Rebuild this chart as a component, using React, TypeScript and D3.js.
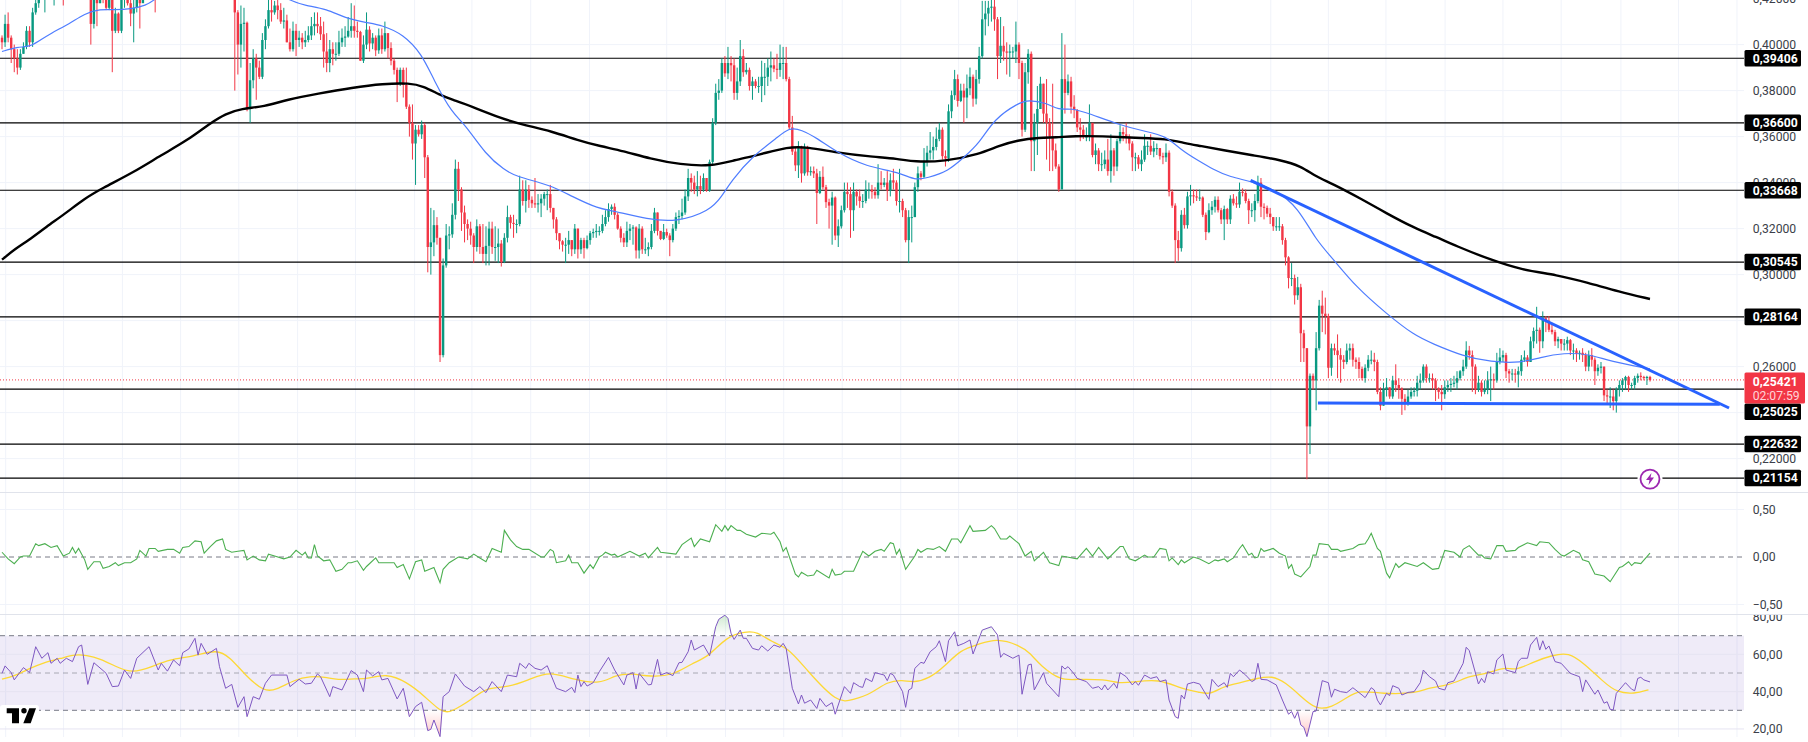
import * as d3 from 'd3';
import React from 'react';

// all prices are in thousandths (394.06 = 0,39406)
const closes = [
  401,409,403,398,394,390,396,399,406,401,414,418,421,
  424,426,428,427,427,429,430,427,432,431,430,429,428,426,430,428,
  409,421,418,424,422,416,423,406,413.5,406,420,422,418,413.5,416,420,418,
  425,428,427,430,428,432,434,433,436,438,437,440,442,441,439,443,441,445,443,446,444,442,445,443,441,444,442,440,438,436,
  414,400,409,409.5,372,384.5,394,390,386,402,
  408,415,414,417,415,410,410.5,401,398,406,
  402,403,401,402,404,408,409,408,404.5,397,
  392,398,396,396,401,403,403.5,406,408,406,
  405.5,393,400,406.5,400.5,403,397.5,404,398,405,
  398.5,393,389,383,389,382.5,373,366,357,363,
  361,365,351,312,314,321.5,316,265,304,317,
  317.5,326,346,337,327,322,320,317,312,321,
  312,309,312.5,320,312,312,313.5,305.5,316,325,
  322.5,322,322,337,332,337,332.5,331,330.5,331,
  333,335,335,329,324,318,314.5,313,313,315,
  311,320,311,315,311.5,315,318,318.5,319,319,
  322,325,328.5,329.5,326,320,316,314,319,320,
  320.5,310.5,320,311,311,312,319,327,319,315.5,
  318.5,317,315,320,325,325.5,327,334,342,340,
  337,338.5,337,342,336.5,349,366,379,380,392,
  387.5,392,391,379,384,395,388,389,382,384,
  382,382,386,386,390,391,389.5,389,392,392,
  385,364,353.5,347.5,355,344,355,344.5,345,344,335.5,
  342.5,338,331.5,330,333.5,317,321,328,336,335,
  328,336,334,332,332,337,337,336,334.5,340,339,
  340,336.5,341,340,332,332,328,315,325,325,
  338,344,342.5,349,353,354,355.5,359,363,351.5,
  350.5,371,378,385,375.5,380,377,381,386,376.5,
  385,395,411,413.5,416,416.5,411,395,399.5,397,
  396.5,397,397,400,392,363,388,396,358,366,
  372,383,370,366,360,354,347,337,385,379,
  384,373,371.5,364,363,360,360,366,352,354,
  348,348,350,345,354,347,358,362,361,360,357,
  351,351,348,350,356,356,353.5,355,355,351.5,
  351,353,336,330,315,311.5,326,321.5,334,334.5,
  334,333.5,
  333.5,326,318.5,328,329.5,332.5,328,324,328.5,324,
  333,331,330.5,336,335.5,332,328,328,332,340,
  329.5,329,326.5,325,321,321,321,315,307.5,298.5,
  298.5,291,294.5,274.5,268,234,256,254,268,286.5,
  283,282,259.5,268,267,265,263,262,267,268,
  263,262,259,255,259.5,263,263,262,249,243,
  250,251,247,254,252,250.5,246,244,247,249,
  249.5,253,254,260,255,255,254,250.5,249,248,
  251,252,252.5,253,255,258,260,267,265,260,
  250,253,249,250,254,254.5,254,262,264,265,
  258,257,257,256.5,258,263,264,262,271,275.5,
  276,271,281,280,276,275,271,272,270,270,
  271.5,267,267,265.5,266,265,260,265,263,258,
  259.5,260,247.5,247,247,245,250,252,254,255.5,
  252,252,255,256,255.5,255,255.5,254.21,
];

const highs = [
  404,413,414,404,400,398,398,401,408,408,416,421,425,
  427,429,431,430,431,432,433,431,435,434,433,432,431,430,433,431,
  430,428,424,427,426,428,427,423,416,414,424,425,426,421,420,424,426,
  428,431,430,433,431,435,437,436,439,441,440,443,445,444,442,446,444,448,446,449,447,445,448,446,444,447,445,443,441,439,
  435,415,417,416,410,392,398,396,393,405,
  411,420,420,419,420,418,416,413,407,410,
  409,406,405,406,408,412,414,414,412,410,
  405,402,401,401,406,407,408,412,418,417,
  410,406,404,414,408,405,404,407,407,410,
  404,401,394,390,390,390,390,374,374,365,
  365,367,366,352,329,328,325,316,307,322,
  321,331,350,349,338,330,324,323,318,324,
  322,322,321,323,323,321,320,315,318,330,
  326,326,324,343,341,341,339,334,342,335,
  335,336,337,339,329,325,318,315,316,319,
  315,322,320,316,316,317,319,320,322,321,
  326,328,331,330.5,331,327,321,318,323,322,
  321.5,321,322,321,316,314,322,329,327,319,
  322,320,318,322,327,328,333,337,346,344,
  343,345,343,344,342,350,368,383,385,394,
  395,399,395,394,390,402,398,392,390,386,
  385,386,393,392,394,397,394,396,400,399,
  399,386,369,355,358,356,357,356,347,347,346,
  345,347,339,333,336,334,324,330,340,340,
  338,340,337,337,335,341,340,339,338,348,345,
  342,345,344,346,341,346,333,329,328,330,
  340,347,345,355,356,362,360,364,366,364,
  354,374,380,389,387,383,383,387,390,387,
  389,399,419,419,419,421,420,412,412,408,
  401,400,399,410,401,393,392,398,397,370,
  382,386,383,385,368,383,357,348,405,400,
  387,386,378,372,368,365,364,374,362,357,
  355,353,354,359,361,355,359,365,364,366,361,
  358,353,352,354,361,358,361,358,357,355,
  353,357,354,337,331,319,328,329,336,339,
  337,337,
  337,334,327,331,332,334,334,329,330,329,
  334.5,335,334,340,337.5,337,333,331,335,343,
  342,331,330,329,325,325,325,322,316,308,
  305,300,299,296,276,268,257,257,275,289,
  293,290,283,270,270,274,268,265,270,270,
  270,264,264,260,261,265,267,266,263,251,
  253,255,251,256,261,255,251,248,250,251,
  251,256,257,261,261,257,257,255,251,252,
  254,254,255,256,258,258.5,263,271,269,267,
  261,256,254,254,258,260,257,266,268,267,
  266,259,259,259,260,265,267,265,273,277,
  286,277,284,282,282,279,276,273,272,272,
  273,272,270,268,267,268,266,267,268,264,
  261,262,260,250,251,250,251,254,255,256,
  256,253,256,257,257.5,256,256,256,
];

const lows = [
  398,399,401,392,388,387,389,396,398,399,399,413,416,
  421,414,425,424,417,425,427,417,425,428,427,426,425,424,426,426,
  400,407,408,418,418,415,415,388,405,405,405,416,417,408,401,414,407,
  422,425,424,427,414,429,431,430,433,435,434,437,439,438,436,440,438,442,440,443,441,439,442,440,438,441,439,437,435,433,
  380,387,390,397,371,366,381,376,385,385,
  398,407,410,413,411,409,407,401,397,397,
  395,399,398,399,401,402,404,405,402,390,
  388,388,391,393,395,399,399,403,403,403,
  403,393,392,398,397,398,395,396,396,397,
  394,391,387,375,382,377,372,360,350,339,
  360,359,342,301,300,308,313,262,264,303,
  311,316,324,332,319,314,315,313,305,310,
  309,305,304,304,309,306,305,303.5,305,314,
  320,316,318,321,330,327,329,329,329,327,
  325,330,328,327,320,315,311,310,305,309,
  308,309,307,309,307,311,313,316,316,317,
  318,321,323,326,324,319.5,314,312,312,315,
  313,307,307,309,309,308,311,318,317,315,
  315,316,308,314,319,322,324,326,332,336,
  335,334,335,336,336,336,348,365,376,379,
  386,385,384,376,376,382,386,387,380,376,
  381,379,375,378,382,384,388,385,386,385,
  384,363,352,345,342,340,343,343,343,342,322,
  335,337,329,320,313,315,312,320,327,329,
  316,319,330,329,329,331,333,333,333,333,337,
  338,332,334,337,330,327,325,314,305,314,
  325,336,341,342,347,350,350,354,358,350,
  347,349,368,376,373,375,366,368,378,373,
  374,383,394,404,408,410,406,385,392,393,
  387,386,394,392,385,360,362,383,345,345,
  352,372,366,350,345,345,346,336,340,370,
  378,370,368,362,358,359,358,358,351,348,
  345,345,346,343,340,343,345,357,358,357,354,
  345,345,346,345,349,352,352,351,352,350,
  348,349,334,329,305,306,310,320,320,330,
  331,332,
  332,325,315,318,326,327,327,322,315,322,
  322,330,329,329,334,331,322,325,323,331,
  325,324,325,322,319,319,319,313,304,294,
  295,287,289,262,262,211,222,250,241,267,
  275,274,255,256,265,255,253,259,261,263,
  260,259,255,254,253,258,261,258,248,241,
  243,247,246,246,249,246,239,241,243,246,
  247,247,250,253,253,253,250,245,246,241,
  246,249,249,251,250,254,256,259,263,249,
  248,249,247,248,248,245,250,253,261,262,
  255,253,254,253,251,256,262,260,262,268,
  270,266,268,275,275,274,269,268,267,267,
  267,265,263,262,263,262,258,258,260,252,
  256,257,245,244,242,241,240,247,249,250,
  249,250,250,253,254,254,252,253.5,
];

// [bar, value]
const ema50: [number, number][] = [
  [0,397],[5,399],[9,399],[12,401.5],[16,405],[22,409],[27,413.5],[32,415.5],[37,415],[42,415.5],[47,417],[50,419.5],[57,428],
  [87,425],[94,419],[99,417],[106,415.5],[112,411.5],[119,409.5],[124,408.5],[131,404.5],[137,396],[141,384.5],[147,370],[151,365.7],
  [158,352],[164,345.5],[168,342.5],[179,339],[186,334],[195,328.5],[199,328],[211,324],[220,322.8],[231,327.6],[235,334],[238,340.6],
  [245,351.5],[253,359.4],[257,364],[261,363],[266,359.4],[273,352.8],[282,347],[293,344.5],[298,341],[302,342],[309,345],[314,351],
  [319,357],[324,367.9],[332,374.7],[335,376],[341,374.7],[345,371.4],[349,372.5],[355,370],[365,365],[373,362.3],[380,360.4],[385,354],
  [391,349.2],[395,346],[401,342.3],[408,340.6],[416,336.6],[423,329.4],[429,314.9],[434,307.7],[442,294.6],[452,283],[461,273.6],[467,270],
  [477,264.5],[486,262],[496,261.6],[502,264],[510,266],[518,265.5],[525,262.3],[538,259],
];

const ema200: [number, number][] = [
  [0,306.5],[4.4,311.3],[8.7,314.9],[14.4,320.7],[20.6,326.5],[26.9,333],[32.5,337.4],[43.1,344.6],[51.9,351.9],[60.6,358.4],[68.1,366],
  [73.1,370],[78.1,372.2],[85.6,373],[93.1,376.1],[103.1,378.7],[114.4,381.3],[124.4,383],[133.1,383.3],[137.5,382],[143.1,378],[146.9,376.1],
  [153.1,373.2],[163.1,367.8],[170.6,365],[179.4,362.3],[188.1,358.4],[195.3,355.8],[202.7,353.8],[211.5,350.4],[221.5,347.8],[231.5,347.1],
  [239,349.7],[247.7,352.3],[256.5,355.5],[262.7,355.5],[272.7,353],[282.7,351.4],[292.7,350.4],[297.7,349],[307.7,349.2],[318.9,352.3],
  [325.2,355.9],[331.4,358.4],[338.9,359.6],[343.9,359.6],[350.2,360.3],[358.9,360.2],[370.2,359.4],[380.2,359.1],[386.5,357],[391.1,356],
  [398.7,354.1],[407.6,352],[417.7,349.8],[424,347.2],[429,342.6],[434,339.7],[444.3,332.5],[451.9,326.7],[460.7,320.5],[468.3,316.3],
  [474.6,312.5],[486,306.4],[496.2,302],[507.6,299.9],[517.7,296.5],[527.8,292.6],[538,289.4],
];

const trendDown: [number, number][] = [[407.6,341],[563.8,242]];
const trendFlat: [number, number][] = [[429.6,244.2],[560.8,243.6]];

const oscillator: [number, number][] = [
  [0,.05],[2,-.02],[4,-.07],[6,0],[7,.01],[9,.01],[11,.14],[12,.12],[14,.14],[16,.10],[18,.12],[20,.01],[22,.04],[23,.10],[24,.04],[25,.09],
  [27,-.03],[28,-.13],[30,-.05],[32,-.05],[33,-.12],[35,-.10],[37,-.06],[38,-.09],[40,-.06],[42,-.06],[44,-.02],[45,.07],[47,.01],[48,.09],
  [50,.09],[51,.06],[54,.08],[56,.08],[58,.04],[59,.10],[61,.11],[63,.17],[65,.16],[66,.04],[68,.11],[70,.17],[72,.19],[73,.08],[75,.05],
  [77,.06],[79,.07],[80,-.03],[82,.01],[84,-.03],[86,-.04],[87,.03],[89,.01],[92,-.02],[94,0],[96,.07],[98,.02],[99,.05],[100,-.01],[101,-.01],
  [102,.13],[103,.01],[105,-.04],[107,-.03],[109,-.15],[111,-.13],[113,-.06],[114,-.06],[116,-.04],[118,-.14],[119,-.10],[122,-.01],[123,-.06],
  [125,-.06],[128,-.06],[129,-.11],[131,-.08],[133,-.23],[135,-.05],[137,-.03],[138,-.15],[141,-.11],[143,-.27],[144,-.13],[146,-.06],[149,0],
  [152,-.02],[154,.03],[156,-.01],[158,-.05],[160,.09],[163,.05],[164,.28],[166,.18],[168,.11],[170,.08],[172,.08],[176,0],[177,0],[179,.08],
  [180,.06],[181,-.06],[184,-.04],[185,.02],[186,-.06],[188,-.06],[190,-.17],[192,-.08],[193,-.12],[195,0],
  [196,.02],[197,.05],[199,.02],[200,.03],[201,0],[205,.06],[208,.01],[210,.04],[211,-.01],[214,.10],[215,.05],[220,.03],[222,.13],[225,.20],
  [226,.11],[228,.19],[231,.16],[233,.34],[235,.27],[236,.33],[237,.28],[238,.33],[240,.28],[241,.28],[243,.24],[246,.21],[248,.25],[251,.24],
  [252,.26],[254,.16],[255,.06],[256,.10],[259,-.18],[260,-.21],[261,-.16],[263,-.20],[265,-.19],[266,-.14],[270,-.22],[271,-.13],[272,-.19],
  [274,-.18],[275,-.15],[278,-.15],[281,.06],[283,.01],[285,.06],[287,.08],[288,.06],[290,.15],[291,.14],[292,.03],[293,.08],[295,-.13],[298,.01],
  [299,.08],[300,.05],[302,.09],[304,.08],[306,.11],[308,.06],[310,.19],[312,.19],[313,.15],[316,.33],[317,.27],[321,.28],[323,.33],[324,.30],
  [326,.19],[328,.19],[329,.22],[332,.14],[334,.01],[336,.06],[337,-.04],[340,.05],[342,-.06],[345,-.09],[346,.01],[351,-.02],[354,.09],[356,.01],
  [358,.10],[361,-.02],[365,.11],[366,.11],[368,-.02],[370,-.04],[373,.02],[374,0],[376,0],[378,.09],[380,.08],[381,-.04],[382,-.01],[384,-.08],
  [385,-.03],[386,-.06],[389,0],[391,-.02],
  [394,-.07],[396,-.03],[397,-.04],[399,-.02],[400,-.05],[402,-.01],[404,.09],[405,.13],[407,.02],[408,.04],[409,-.01],[410,0],[411,.09],[412,.06],
  [415,.09],[417,.04],[419,.01],[420,-.12],[421,-.08],[422,-.18],[424,-.21],[427,-.10],[428,.02],[429,.02],[430,.14],[433,.13],[434,.08],[436,.08],
  [437,.06],[441,.09],[443,.13],[445,.14],[446,.19],[447,.25],[449,.09],[450,.06],[452,-.17],[453,-.22],[455,-.07],[456,-.11],[458,-.06],[462,-.10],
  [464,-.06],[467,-.13],[469,-.12],[471,.07],[474,.05],[476,0],[477,.08],[479,.12],[482,.02],[483,.02],[484,-.01],[486,-.02],[488,.12],[490,.12],
  [491,.06],[494,.07],[495,.10],[498,.15],[501,.12],[502,.16],[505,.15],[507,.08],[509,.02],[510,.01],[513,.07],[515,.04],[516,-.03],[518,-.05],
  [520,-.18],[523,-.20],[525,-.26],[528,-.11],[529,-.10],[531,-.05],[532,-.09],[533,-.06],[535,-.07],[538,.04],
];

const rsi: [number, number][] = [
  [0,49.8],[1,53.8],[3,50.2],[4,46.3],[7,52.9],[9,50.2],[11,64.1],[13,57.9],[15,60.9],[16,55.2],[18,57.9],[19,55.2],[21,57.9],[23,56.1],[25,64.1],[26,65],
  [28,43.9],[30,55.5],[33,51.3],[34,49.8],[36,42.7],[38,43],[40,51.6],[42,47.1],[44,57.9],[48,64.1],[51,51.6],[52,55.2],[54,51],[56,57],[58,53.9],[59,60.9],
  [61,62.9],[63,68.6],[64,59.6],[65,65.9],[67,60],[70,63.2],[71,53.4],[73,41.8],[75,43.9],[77,31.6],[79,37.3],[80,26.6],[82,37.3],[84,35.9],[86,44.5],[88,48.9],
  [93,48.9],[94,42.7],[97,46.6],[99,44.1],[101,44.5],[103,49.5],[104,48],[107,37.3],[108,42.7],[111,40.9],[114,51.3],[116,48.9],[118,40],[119,51.6],[121,48.4],
  [123,50.7],[124,46.3],[126,47.1],[129,36.1],[131,41.8],[133,26.6],[135,32],[137,34.3],[139,19.1],[140,19.8],[141,24.8],[143,15.9],[144,37.3],[146,40],[148,49.5],
  [151,43],[154,40],[156,42.7],[158,39.5],[160,45.4],[163,40],[165,48.9],[168,48],[169,55.2],[171,52.5],[172,55.2],[174,52.5],[176,51.6],[178,53.9],[181,41.8],
  [184,40],[186,42.3],[187,39.5],[188,48.9],[189,42.7],[190,45.4],[191,43],[193,44.8],[195,50.7],
  [198,58.4],[200,51.6],[203,43.6],[204,48.9],[206,50.2],[207,41.4],[208,49.8],[211,43.6],[212,43.9],[214,57.3],[215,48.9],[217,50.2],[219,48.6],[221,55.5],[222,55.7],
  [224,61.4],[225,67.7],[226,62.3],[229,65],[231,59.3],[233,74.8],[234,78.8],[236,81],[237,79.3],[238,71.3],[239,68],[241,73],[242,68.6],[243,68.6],[245,63.2],[247,62.3],
  [248,64.6],[250,61.8],[252,65],[254,63.8],[255,65.9],[256,63.2],[258,41.8],[260,33.4],[261,38.2],[262,33.8],[264,35.5],[266,31],[267,36.4],[269,32],[271,34.1],[272,27.9],
  [275,42.7],[277,39.1],[278,44.8],[280,42.7],[281,42.3],[282,47.1],[284,45.4],[285,50.2],[288,48.9],[289,45.9],[290,49.8],[291,48.9],[294,40],[295,31.6],[296,40.9],[297,41.8],
  [298,52.5],[300,55.7],[301,55.2],[303,61.4],[305,64.1],[306,67.3],[308,56.1],[309,67.3],[311,72.1],[312,64.6],[314,65.9],[316,67.7],[317,60.2],[320,73],[323,74.8],[325,70.4],
  [326,58.4],[327,60.5],[330,57.9],[332,59.6],[333,38.6],[335,54.3],[336,54.8],[337,40.9],[340,50.2],[341,44.5],[345,37.3],[346,53.8],[347,52.1],[348,53.4],[350,49.5],[351,47.1],
  [354,45.4],[356,41.8],[358,42.7],[359,40.9],[360,43.6],[361,40.9],[363,44.5],[364,41.8],[365,50.2],[367,48],[369,43.6],[370,45.4],[371,43.4],[373,48.9],[375,47.1],[377,48],
  [378,45.4],[380,46.3],[381,35.5],[383,26.6],[384,25.7],[385,38.2],[386,36.1],[387,44.1],[389,45],[391,44.1],
  [394,35.9],[395,46.6],[397,42.7],[399,44.8],[400,42.3],[401,49.8],[402,48],[404,51.6],[406,48.9],[408,45.4],[409,46.3],[410,55.2],[411,46.6],[413,46.3],[416,43.6],[418,35.5],
  [420,27.9],[421,29.3],[422,25.7],[423,29.3],[424,22.1],[425,20.9],[426,15.9],[428,29.3],[429,29.6],[431,45.9],[433,44.8],[434,37],[435,41.3],[437,40],[439,39.5],[441,42.1],
  [444,38.2],[445,36.8],[447,42.1],[448,40.9],[449,35.5],[450,32.9],[452,39.1],[453,37.9],[454,43.2],[456,41.8],[457,38.2],[459,39.6],[461,40],[463,44.8],[464,51.6],[466,48],
  [468,45.7],[469,41.8],[471,40.9],[472,44.8],[474,45.7],[477,55.2],[478,63.8],[479,62],[482,44.1],[483,47.1],[484,44.8],[485,50.7],[487,49.5],[488,57],[490,60.2],[491,51.6],
  [494,50.2],[495,56.1],[496,57.9],[498,57.9],[499,65],[501,69.1],[502,62.3],[503,67.3],[504,62.7],[505,64.5],[507,56.1],[509,55.2],[512,49.8],[515,48],[516,40],[517,46.3],
  [520,38.6],[521,40.9],[523,33.8],[524,34.6],[525,30.5],[526,30.2],[527,39.1],[530,44.8],[532,41.3],[533,40.5],[534,47.1],[535,47.7],[536,46.3],[538,45.2],
];

const rsiAverage: [number, number][] = [
  [0,46.7],[4,48.3],[9,52.4],[14,55.9],[19,57.7],[24,60],[27.5,59.5],[32,57.7],[37,53.6],[42.5,49.7],[49.4,53.6],[54.4,57.2],[63,59],[70,62.7],[74.4,58.6],[79.4,48.8],
  [85.6,39.9],[89.4,40.8],[95.6,46.5],[100.6,48.3],[105.6,47.9],[109.4,46.2],[115.6,47],[118.8,46.6],[125.6,49.8],[131.9,45.4],[138.1,37.5],[143.1,29.3],[146.2,28.8],
  [149.4,32],[153.1,35.5],[158.1,42.3],[164.4,42.1],[171.9,46.2],[178.7,51.2],[186.9,46.2],[195.3,44],[200.2,49],[205.8,49.8],[211.5,48],[219,48.6],[225.2,55.2],[230.8,58.8],
  [236.5,69.5],[242.7,72.2],[246.5,72.2],[251.5,66.3],[256.5,63.8],[262.7,51.6],[272.7,33.7],[277.7,35.5],[284,39.1],[289,45.4],[294,46.3],[297.7,44.8],[302.7,47.1],
  [307.7,53.4],[312.7,62.3],[319,65.5],[324.6,68.6],[332.1,65],[335.8,60.5],[339,53.9],[345.8,45.9],[350.2,46.7],[360.2,46.6],[364,44.5],[369,45],[377.7,47],[385.2,41.3],
  [391.2,39.6],[394.3,38.4],[398.7,42.8],[403.8,44.6],[410.1,47.3],[414.5,48.5],[419,45],[424,37.5],[429,30.2],[434.1,31.6],[439.2,37],[443,40.9],[450.6,38.7],[462,39.1],
  [465.8,42.3],[472,43],[479.7,48.9],[484.8,49.5],[490.5,53.4],[494.3,51.2],[500,56.1],[506.3,59.6],[511.4,61],[516.4,55.2],[522.7,45.4],[527.2,39.5],[532.9,38.8],[537.5,41],
];

const levels = [394.06, 366, 336.68, 305.45, 281.64, 250.25, 226.32, 211.54];
const priceTicks = [420, 400, 380, 360, 340, 320, 300, 280, 260, 240, 220];
const oscTicks = [0.5, 0, -0.5];
const rsiTicks = [80, 60, 40, 20];
const rsiDashes = [70, 50, 30];
const gridBars = [
  1.2,20.1,39.3,58.3,77.3,96.5,115.4,134.7,153.4,172.6,191.8,217,236.2,255.2,274.3,293.4,312.3,331.5,350.4,369.4,388.3,
  414.2,433,451.8,471.1,490,509,528.5,547.3,566.4,
];
const lastPrice = 254.21;
const countdown = '02:07:59';
const signalBar = 538;

const W = 1808;
const H = 742;
const plotRight = 1744;
const font = 'Roboto, sans-serif';
const upColor = '#089981';
const downColor = '#f23645';
const gridColor = '#f0f3fa';
const axisText = '#3c3f4a';

export default function App() {
  const svgRef = React.useRef<SVGSVGElement>(null);

  React.useEffect(() => {
    if (svgRef.current == null) {
      return;
    }
    const svg = d3.select(svgRef.current);
    svg.selectAll('*').remove();

    const x = d3.scaleLinear().domain([0, closes.length - 1]).range([2, 1650]);
    const y = d3.scaleLinear().domain([400, 300]).range([44.6, 274.6]);
    const oscY = d3.scaleLinear().domain([0.5, -0.5]).range([509.5, 604.5]);
    const rsiY = d3.scaleLinear().domain([70, 30]).range([635.7, 710.3]);
    const priceText = (v: number) => (v / 1000).toFixed(5).replace('.', ',');
    const paneText = (v: number) => v.toFixed(2).replace('.', ',').replace('-', '\u2212');

    const defs = svg.append('defs');
    const addClip = (id: string, top: number, bottom: number) =>
      defs.append('clipPath').attr('id', id).append('rect')
        .attr('x', 0).attr('y', top).attr('width', W).attr('height', bottom - top);
    addClip('main-pane', 0, 492);
    addClip('osc-pane', 492, 614);
    addClip('rsi-pane', 615, 737);
    const addFade = (id: string, color: string, from: number, to: number) => {
      const g = defs.append('linearGradient').attr('id', id).attr('gradientUnits', 'userSpaceOnUse')
        .attr('x1', 0).attr('x2', 0).attr('y1', from).attr('y2', to);
      g.append('stop').attr('offset', 0).attr('stop-color', color).attr('stop-opacity', 0);
      g.append('stop').attr('offset', 1).attr('stop-color', color).attr('stop-opacity', 0.35);
    };
    addFade('fade-up', '#4caf50', rsiY(70), rsiY(85));
    addFade('fade-down', '#ff5252', rsiY(30), rsiY(15));

    // grid
    const grid = svg.append('g').attr('stroke', gridColor).attr('stroke-width', 1);
    gridBars.forEach((b) => {
      grid.append('line').attr('x1', x(b)).attr('x2', x(b)).attr('y1', 0).attr('y2', 737);
    });
    priceTicks.forEach((t) => {
      grid.append('line').attr('x1', 0).attr('x2', plotRight).attr('y1', y(t)).attr('y2', y(t));
    });
    oscTicks.forEach((t) => {
      if (t !== 0) grid.append('line').attr('x1', 0).attr('x2', plotRight).attr('y1', oscY(t)).attr('y2', oscY(t));
    });

    // rsi band goes under its grid lines
    svg.append('rect').attr('x', 0).attr('width', plotRight).attr('y', rsiY(70)).attr('height', rsiY(30) - rsiY(70))
      .attr('fill', '#7e57c2').attr('fill-opacity', 0.12);
    rsiTicks.forEach((t) => {
      svg.append('line').attr('x1', 0).attr('x2', plotRight).attr('y1', rsiY(t)).attr('y2', rsiY(t))
        .attr('stroke', t === 80 ? 'none' : '#e6e4f2');
    });

    // separators between panes
    [492.5, 614.5].forEach((s) => {
      svg.append('line').attr('x1', 0).attr('x2', W).attr('y1', s).attr('y2', s).attr('stroke', '#e0e3eb');
    });

    // price pane
    const main = svg.append('g').attr('clip-path', 'url(#main-pane)');
    levels.forEach((l) => {
      main.append('line').attr('x1', 0).attr('x2', plotRight).attr('y1', y(l)).attr('y2', y(l))
        .attr('stroke', '#000').attr('stroke-width', 1.2);
    });
    main.append('line').attr('x1', 0).attr('x2', plotRight).attr('y1', y(lastPrice)).attr('y2', y(lastPrice))
      .attr('stroke', downColor).attr('stroke-width', 1).attr('stroke-dasharray', '1 2');

    closes.forEach((c, i) => {
      // each candle opens at the previous close
      const o = i === 0 ? 403 : closes[i - 1];
      const color = c >= o ? upColor : downColor;
      const cx = x(i);
      main.append('line').attr('x1', cx).attr('x2', cx).attr('y1', y(highs[i])).attr('y2', y(lows[i]))
        .attr('stroke', color).attr('stroke-width', 1);
      main.append('rect').attr('x', cx - 1.2).attr('width', 2.4)
        .attr('y', y(Math.max(o, c))).attr('height', Math.max(1, Math.abs(y(o) - y(c))))
        .attr('fill', color);
    });

    const priceLine = d3.line<[number, number]>().x((d) => x(d[0])).y((d) => y(d[1]));
    const smooth = d3.line<[number, number]>().x((d) => x(d[0])).y((d) => y(d[1])).curve(d3.curveBasis);
    main.append('path').attr('d', smooth(ema200)).attr('fill', 'none').attr('stroke', '#000').attr('stroke-width', 2.4);
    main.append('path').attr('d', smooth(ema50)).attr('fill', 'none').attr('stroke', '#4f7dff').attr('stroke-width', 1.2);
    [trendDown, trendFlat].forEach((t) => {
      main.append('path').attr('d', priceLine(t)).attr('fill', 'none').attr('stroke', '#2962ff').attr('stroke-width', 3);
    });

    // signal marker on the lowest level
    const marker = main.append('g').attr('transform', `translate(${x(signalBar)},${y(211.54) + 1})`);
    marker.append('circle').attr('r', 12.5).attr('fill', '#fff');
    marker.append('circle').attr('r', 9.5).attr('fill', '#fff').attr('stroke', '#9c27b0').attr('stroke-width', 1.8);
    marker.append('path').attr('d', 'M1.5,-6 L-4,1 H-0.5 L-1.5,6 L4,-1.5 H0.5 Z').attr('fill', '#9c27b0');

    // oscillator pane
    const osc = svg.append('g').attr('clip-path', 'url(#osc-pane)');
    osc.append('line').attr('x1', 0).attr('x2', plotRight).attr('y1', oscY(0)).attr('y2', oscY(0))
      .attr('stroke', '#787b86').attr('stroke-dasharray', '5 4');
    const oscLine = d3.line<[number, number]>().x((d) => x(d[0])).y((d) => oscY(d[1]));
    osc.append('path').attr('d', oscLine(oscillator)).attr('fill', 'none').attr('stroke', '#4caf50').attr('stroke-width', 1.1);

    // rsi pane
    const rsiPane = svg.append('g').attr('clip-path', 'url(#rsi-pane)');
    rsiDashes.forEach((t) => {
      rsiPane.append('line').attr('x1', 0).attr('x2', plotRight).attr('y1', rsiY(t)).attr('y2', rsiY(t))
        .attr('stroke', '#787b86').attr('stroke-opacity', t === 50 ? 0.6 : 1).attr('stroke-dasharray', '5 4');
    });
    const over = d3.area<[number, number]>().x((d) => x(d[0])).y0(rsiY(70)).y1((d) => rsiY(Math.max(d[1], 70)));
    const under = d3.area<[number, number]>().x((d) => x(d[0])).y0(rsiY(30)).y1((d) => rsiY(Math.min(d[1], 30)));
    rsiPane.append('path').attr('d', over(rsi)).attr('fill', 'url(#fade-up)');
    rsiPane.append('path').attr('d', under(rsi)).attr('fill', 'url(#fade-down)');
    const rsiLine = d3.line<[number, number]>().x((d) => x(d[0])).y((d) => rsiY(d[1]));
    const rsiSmooth = d3.line<[number, number]>().x((d) => x(d[0])).y((d) => rsiY(d[1])).curve(d3.curveBasis);
    rsiPane.append('path').attr('d', rsiSmooth(rsiAverage)).attr('fill', 'none').attr('stroke', '#fdd835').attr('stroke-width', 1.3);
    rsiPane.append('path').attr('d', rsiLine(rsi)).attr('fill', 'none').attr('stroke', '#7e57c2').attr('stroke-width', 1);

    // logo on its white plate
    svg.append('rect').attr('x', 0).attr('y', 705).attr('width', 39).attr('height', 21).attr('rx', 3).attr('fill', '#fff');
    const logo = svg.append('g').attr('fill', '#000');
    logo.append('path').attr('d', 'M6.7,708.3 H19 V723.3 H12 V713.3 H6.7 Z');
    logo.append('circle').attr('cx', 24).attr('cy', 710.7).attr('r', 2.7);
    logo.append('path').attr('d', 'M29.3,708.3 H36 L30.7,723.3 H23.3 Z');

    // right scale
    const boxH = 16.6;
    const priceBoxTop = y(lastPrice) - 7.5;
    const priceBoxBottom = priceBoxTop + 31;
    const boxCenters = levels.map((l) => {
      const cy = y(l);
      // a label that would run under the price box moves below it
      return cy + boxH / 2 > priceBoxTop && cy - boxH / 2 < priceBoxBottom ? priceBoxBottom + boxH / 2 : cy;
    });

    const axis = svg.append('g').attr('font-family', font).attr('font-size', 12.2).attr('fill', axisText);
    const axisLabel = (target: d3.Selection<SVGGElement, unknown, null, undefined>, yy: number, text: string) =>
      target.append('text').attr('x', 1752.7).attr('y', yy).attr('dy', '0.36em').text(text);
    priceTicks.forEach((t) => {
      // ticks sitting right behind a level box never show
      if (boxCenters.every((c) => Math.abs(c - y(t)) > 5)) axisLabel(axis, y(t), priceText(t));
    });
    oscTicks.forEach((t) => axisLabel(axis, oscY(t), paneText(t)));
    const rsiAxis = axis.append('g').attr('clip-path', 'url(#rsi-pane)');
    rsiTicks.forEach((t) => axisLabel(rsiAxis, rsiY(t), paneText(t)));

    levels.forEach((l, i) => {
      const cy = boxCenters[i];
      svg.append('rect').attr('x', 1744.5).attr('y', cy - boxH / 2).attr('width', 56.5).attr('height', boxH)
        .attr('rx', 1.5).attr('fill', '#000');
      svg.append('text').attr('x', 1752.7).attr('y', cy).attr('dy', '0.36em').attr('font-family', font)
        .attr('font-size', 12.2).attr('font-weight', 700).attr('fill', '#fff').text(priceText(l));
    });
    svg.append('rect').attr('x', 1744.5).attr('y', priceBoxTop).attr('width', 60.5).attr('height', 31)
      .attr('rx', 1.5).attr('fill', downColor);
    svg.append('text').attr('x', 1752.7).attr('y', priceBoxTop + 9.5).attr('dy', '0.36em').attr('font-family', font)
      .attr('font-size', 12.2).attr('font-weight', 700).attr('fill', '#fff').text(priceText(lastPrice));
    svg.append('text').attr('x', 1752.7).attr('y', priceBoxTop + 23.5).attr('dy', '0.36em').attr('font-family', font)
      .attr('font-size', 12.2).attr('fill', '#ffd3d7').text(countdown);
  }, []);

  return (
    <svg
      ref={svgRef}
      width={W}
      height={H}
      style={{ position: 'absolute', top: 0, left: 0, display: 'block', background: '#fff' }}
    ></svg>
  );
}
